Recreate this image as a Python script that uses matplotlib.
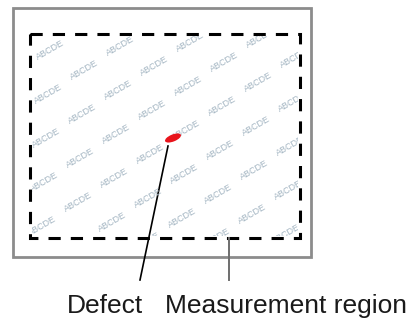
import numpy as np
import matplotlib
matplotlib.use('Agg')
import matplotlib.pyplot as plt
from matplotlib.patches import Rectangle, Ellipse
from matplotlib.transforms import Bbox, TransformedBbox

plt.rcParams['font.family'] = ['Liberation Sans', 'DejaVu Sans']

# labels of the diagram
label_defect = 'Defect'
label_region = 'Measurement region'
watermark = 'ABCDE'

# geometry (pixel units, y downwards)
outer_box = (13, 8, 298, 249)      # x, y, w, h
region_box = (30, 34, 270, 204)
defect_xy = (173, 138)
defect_leader = ([168, 140], [146, 280])
region_leader = ([229, 229], [238, 280])

# watermark lattice
wm_origin = (50, 50)
wm_v1 = (70, -4)
wm_v2 = (34, 20)

fig = plt.figure(figsize=(4.18, 3.20), dpi=100)
ax = fig.add_axes([0, 0, 1, 1])
ax.set_xlim(0, 418)
ax.set_ylim(320, 0)
ax.axis('off')

# outer frame
ax.add_patch(Rectangle(outer_box[:2], outer_box[2], outer_box[3],
                       fill=False, edgecolor='#8c8c8c', linewidth=2.0))

# clip area for the watermark
x0, y0, w, h = region_box
clip = TransformedBbox(Bbox.from_extents(x0 + 2, y0 + 2, x0 + w - 2, y0 + h - 2),
                       ax.transData)

for i in range(-8, 12):
    for j in range(-6, 14):
        cx = wm_origin[0] + i * wm_v1[0] + j * wm_v2[0]
        cy = wm_origin[1] + i * wm_v1[1] + j * wm_v2[1]
        if x0 - 12 < cx < x0 + w + 12 and y0 - 8 < cy < y0 + h + 8:
            t = ax.text(cx, cy, watermark, fontsize=6.5, color='#a3b5c2',
                        rotation=30, ha='center', va='center',
                        rotation_mode='anchor')
            t.set_clip_box(clip)
            t.set_clip_on(True)

# dashed measurement region
ax.add_patch(Rectangle(region_box[:2], region_box[2], region_box[3],
                       fill=False, edgecolor='black', linewidth=2.2,
                       linestyle=(0, (4, 3.3))))

# defect
ax.add_patch(Ellipse(defect_xy, 17, 7, angle=-22, facecolor='#e8141c',
                     edgecolor='none', zorder=5))

# leader lines
ax.plot(defect_leader[0], defect_leader[1], color='black', linewidth=1.2)
ax.plot(region_leader[0], region_leader[1], color='#6e6e6e', linewidth=1.4)

ax.text(67, 313, label_defect, fontsize=19, color='#1a1a1a',
        ha='left', va='baseline')
ax.text(165, 313, label_region, fontsize=19, color='#1a1a1a',
        ha='left', va='baseline')

fig.savefig('out.png', dpi=100)
